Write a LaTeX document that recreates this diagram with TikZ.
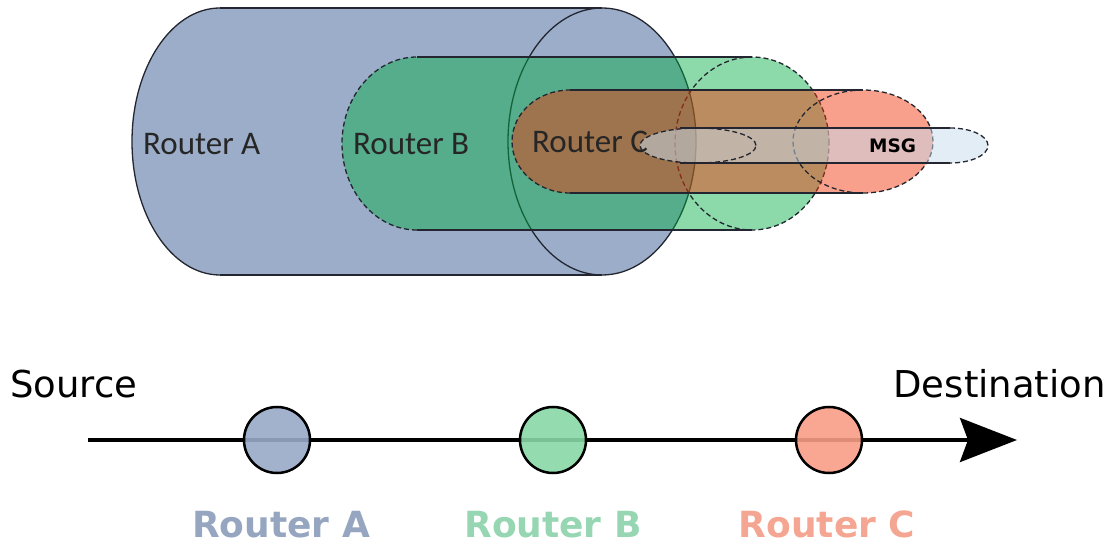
\documentclass[tikz,border=0pt]{standalone}
\usepackage{fontspec}
\setmainfont{DejaVu Sans}
\newfontfamily\tubefont{Carlito}
\usetikzlibrary{arrows.meta}

\definecolor{routerA}{RGB}{155,173,200}
\definecolor{routerB}{RGB}{0,173,67}
\definecolor{routerC}{RGB}{240,53,10}
\definecolor{msgblue}{RGB}{200,220,238}
\definecolor{hopA}{RGB}{152,170,200}
\definecolor{hopB}{RGB}{136,216,166}
\definecolor{hopC}{RGB}{248,156,134}
\definecolor{labA}{RGB}{150,166,192}
\definecolor{labB}{RGB}{150,214,178}
\definecolor{labC}{RGB}{244,166,146}
\definecolor{edgegray}{RGB}{35,38,48}

\tikzset{
  edge/.style={draw=edgegray, line width=1.3pt},
  dashedge/.style={draw=edgegray, line width=1.3pt, dash pattern=on 5pt off 3pt},
  tubelabel/.style={font=\tubefont\fontsize{33}{35}\selectfont, text=black!85, inner sep=0pt, anchor=base west},
  hop/.style={circle, draw=black, line width=2.5pt, minimum size=66pt, inner sep=0pt, fill opacity=0.9},
  hoplabel/.style={font=\bfseries\fontsize{36}{40}\selectfont, anchor=base, inner sep=0pt},
  endlabel/.style={font=\fontsize{37}{40}\selectfont, inner sep=0pt}
}

\begin{document}
\begin{tikzpicture}[x=1pt,y=1pt]
\useasboundingbox (0,0) rectangle (1116,546);

% ---- Router A tube (outermost layer) ----
\fill[routerA] (220,538) -- (602,538)
  arc[start angle=90,end angle=-90,x radius=94,y radius=133.5]
  -- (220,271)
  arc[start angle=270,end angle=90,x radius=88,y radius=133.5] -- cycle;
\draw[edge] (220,538) -- (602,538) (220,271) -- (602,271);
\draw[edge] (220,271) arc[start angle=270,end angle=90,x radius=88,y radius=133.5];
\draw[edge] (602,404.5) ellipse[x radius=94,y radius=133.5];

% ---- Router B tube ----
\fill[routerB, fill opacity=0.45] (417,489) -- (752,489)
  arc[start angle=90,end angle=-90,x radius=77,y radius=86.5]
  -- (417,316)
  arc[start angle=270,end angle=90,x radius=75,y radius=86.5] -- cycle;
\draw[edge] (417,489) -- (752,489) (417,316) -- (752,316);
\draw[dashedge] (417,316) arc[start angle=270,end angle=90,x radius=75,y radius=86.5];
\draw[dashedge] (752,402.5) ellipse[x radius=77,y radius=86.5];

% ---- Router C tube ----
\fill[routerC, fill opacity=0.47] (570,456) -- (863,456)
  arc[start angle=90,end angle=-90,x radius=70,y radius=51.5]
  -- (570,353)
  arc[start angle=270,end angle=90,x radius=58,y radius=51.5] -- cycle;
\draw[edge] (570,456) -- (863,456) (570,353) -- (863,353);
\draw[dashedge] (570,353) arc[start angle=270,end angle=90,x radius=58,y radius=51.5];
\draw[dashedge] (863,404.5) ellipse[x radius=70,y radius=51.5];

% ---- message tube ----
\fill[msgblue, fill opacity=0.5] (698,418) -- (950,418)
  arc[start angle=90,end angle=-90,x radius=38,y radius=17.5]
  -- (698,383)
  arc[start angle=270,end angle=90,x radius=58,y radius=17.5] -- cycle;
\draw[edge] (680,418) -- (950,418) (680,383) -- (950,383);
\draw[dashedge] (698,400.5) ellipse[x radius=58,y radius=17.5];
\draw[dashedge] (950,418) arc[start angle=90,end angle=-90,x radius=38,y radius=17.5];

% ---- tube labels ----
\node[tubelabel] (tubeA) at (143,391) {Router A};
\node[tubelabel] (tubeB) at (353,391) {Router B};
\node[tubelabel] (tubeC) at (532,393) {Router C};
\node[font=\bfseries\fontsize{18.5}{20}\selectfont, inner sep=0pt, anchor=base west] (msg) at (869,393) {MSG};

% ---- path from source to destination ----
\node[endlabel, anchor=base west] (source) at (10,148) {Source};
\node[endlabel, anchor=base east] (dest) at (1106,148) {Destination};
\coordinate (src) at (88,106);
\coordinate (dst) at (1017,106);
\draw[line width=3.8pt, -{Stealth[length=57pt, width=44pt, inset=8pt]}] (src) -- (dst);

\node[hop, fill=hopA] (hopa) at (277,106) {};
\node[hop, fill=hopB] (hopb) at (553,106) {};
\node[hop, fill=hopC] (hopc) at (829,106) {};

\node[hoplabel, text=labA] (laba) at (281,9) {Router A};
\node[hoplabel, text=labB] (labb) at (553,9) {Router B};
\node[hoplabel, text=labC] (labc) at (827,9) {Router C};
\end{tikzpicture}
\end{document}
